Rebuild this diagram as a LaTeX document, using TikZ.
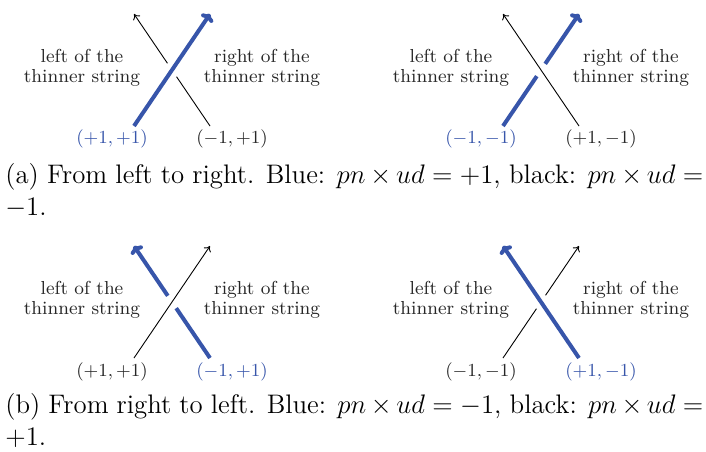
\RequirePackage{fix-cm}
\documentclass[tikz,border=0pt]{standalone}
\usetikzlibrary{arrows.meta,calc}
\definecolor{strandblue}{RGB}{55,85,170}
\begin{document}
\begin{tikzpicture}[x=0.5pt,y=-0.5pt,
  thinstrand/.style={line width=0.45pt,black},
  thickstrand/.style={line width=2pt,strandblue},
  thintip/.style={-{To[length=2.6pt,width=4.2pt]}},
  thicktip/.style={-{To[length=3.5pt,width=7pt]}},
  sidelabel/.style={align=center,font=\fontsize{9.4}{10}\selectfont,text=black!85},
  endlabel/.style={anchor=base,font=\fontsize{9.2}{10}\selectfont,inner sep=0pt},
  caption/.style={anchor=base west,inner sep=0pt,font=\fontsize{13.4}{16}\selectfont}]
\useasboundingbox (0,0) rectangle (706,451);

% ---------- panel 1: blue SW->NE over, black SE->NW under
\coordinate (a1) at (134,126); \coordinate (b1) at (210,14);
\coordinate (c1) at (210,126); \coordinate (d1) at (134,14);
\draw[thinstrand] (c1) -- ($(c1)!0.44!(d1)$) coordinate (g1a);
\draw[thinstrand,thintip] ($(c1)!0.56!(d1)$) coordinate (g1b) -- (d1);
\draw[thickstrand,thicktip] (a1) -- (b1);
\node[sidelabel] (l1) at (82,68) {left of the\\thinner string};
\node[sidelabel] (r1) at (262,68) {right of the\\thinner string};
\node[endlabel,text=strandblue] (e1a) at (112,143) {$(+1,+1)$};
\node[endlabel,text=black!85] (e1b) at (232,143) {$(-1,+1)$};

% ---------- panel 2: blue SW->NE under, black SE->NW over
\coordinate (a2) at (503,126); \coordinate (b2) at (579,14);
\coordinate (c2) at (579,126); \coordinate (d2) at (503,14);
\draw[thickstrand] (a2) -- ($(a2)!0.445!(b2)$) coordinate (g2a);
\draw[thickstrand,thicktip] ($(a2)!0.555!(b2)$) coordinate (g2b) -- (b2);
\draw[thinstrand,thintip] (c2) -- (d2);
\node[sidelabel] (l2) at (451,68) {left of the\\thinner string};
\node[sidelabel] (r2) at (631,68) {right of the\\thinner string};
\node[endlabel,text=strandblue] (e2a) at (481,143) {$(-1,-1)$};
\node[endlabel,text=black!85] (e2b) at (601,143) {$(+1,-1)$};

\node[caption] (capa1) at (5,183) {\hbox to 349pt{(a) From left to right. Blue: $pn\times ud=+1$, black: $pn\times ud=$}};
\node[caption] (capa2) at (5,215) {$-1$.};

% ---------- panel 3: blue SE->NW under, black SW->NE over
\coordinate (a3) at (134,358); \coordinate (b3) at (210,246);
\coordinate (c3) at (210,358); \coordinate (d3) at (134,246);
\draw[thickstrand] (c3) -- ($(c3)!0.445!(d3)$) coordinate (g3a);
\draw[thickstrand,thicktip] ($(c3)!0.555!(d3)$) coordinate (g3b) -- (d3);
\draw[thinstrand,thintip] (a3) -- (b3);
\node[sidelabel] (l3) at (82,300) {left of the\\thinner string};
\node[sidelabel] (r3) at (262,300) {right of the\\thinner string};
\node[endlabel,text=black!85] (e3a) at (112,376) {$(+1,+1)$};
\node[endlabel,text=strandblue] (e3b) at (232,376) {$(-1,+1)$};

% ---------- panel 4: blue SE->NW over, black SW->NE under
\coordinate (a4) at (503,358); \coordinate (b4) at (579,246);
\coordinate (c4) at (579,358); \coordinate (d4) at (503,246);
\draw[thinstrand] (a4) -- ($(a4)!0.44!(b4)$) coordinate (g4a);
\draw[thinstrand,thintip] ($(a4)!0.56!(b4)$) coordinate (g4b) -- (b4);
\draw[thickstrand,thicktip] (c4) -- (d4);
\node[sidelabel] (l4) at (451,300) {left of the\\thinner string};
\node[sidelabel] (r4) at (631,300) {right of the\\thinner string};
\node[endlabel,text=black!85] (e4a) at (481,376) {$(-1,-1)$};
\node[endlabel,text=strandblue] (e4b) at (601,376) {$(+1,-1)$};

\node[caption] (capb1) at (5,413) {\hbox to 349pt{(b) From right to left. Blue: $pn\times ud=-1$, black: $pn\times ud=$}};
\node[caption] (capb2) at (5,445) {$+1$.};
\end{tikzpicture}
\end{document}
